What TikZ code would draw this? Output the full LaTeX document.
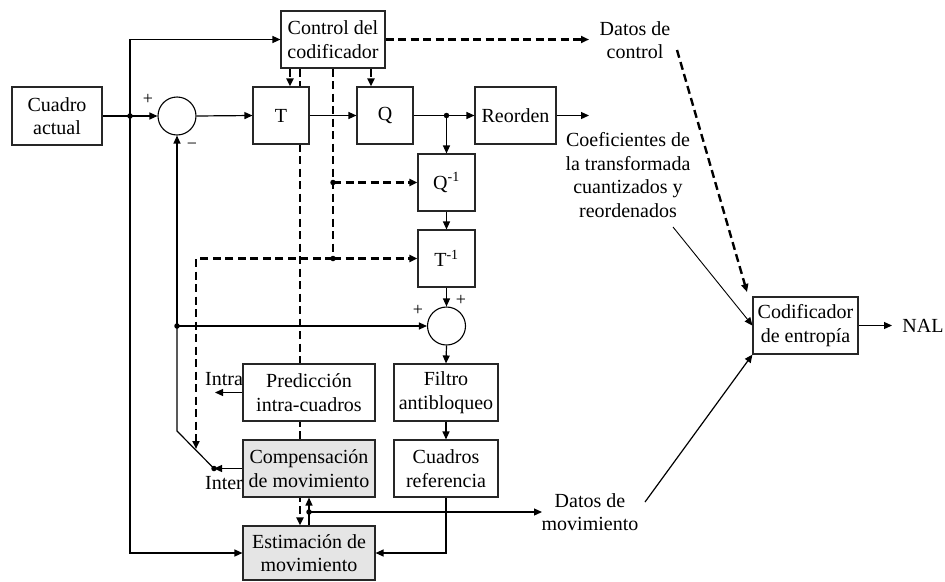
\documentclass[tikz,border=0pt]{standalone}
\usepackage{fontspec}
\setmainfont{Liberation Serif}
\usetikzlibrary{arrows.meta,backgrounds}
\begin{document}
\begin{tikzpicture}[x=1pt,y=-1pt,
  txt/.style={font=\fontsize{20}{23.5}\selectfont, align=center, inner sep=0pt},
  blk/.style={txt, draw=black!85, line width=1.1pt, fill=white},
  gblk/.style={blk, fill=black!10},
  sumc/.style={circle, draw=black, line width=1.1pt, fill=white, minimum size=38pt, inner sep=0pt},
  sgn/.style={font=\fontsize{18}{18}\selectfont, inner sep=0pt},
  conn/.style={line width=1.2pt},
  arr/.style={conn, -{Triangle[length=8pt,width=7pt]}},
  dsh/.style={line width=2.4pt, dash pattern=on 8pt off 4.5pt},
  darr/.style={dsh, -{Triangle[length=8pt,width=7pt]}},
  thin/.style={line width=0.9pt, -{Triangle[length=8pt,width=7pt]}},
  dot/.style={circle, fill=black, inner sep=0pt, minimum size=5.5pt}
]
\useasboundingbox (0,0) rectangle (945,581);

% blocks
\node[blk, line width=2pt, minimum width=90pt, minimum height=58pt] (cuadro) at (57,116) {Cuadro\\actual};
\node[blk, minimum width=104pt, minimum height=57pt] (ctrl) at (333,39.5) {Control del\\codificador};
\node[blk, minimum width=56pt, minimum height=57pt] (T) at (281,115.5) {T};
\node[blk, minimum width=56pt, minimum height=57pt] (Q) at (385,115.5) {Q};
\node[blk, minimum width=81pt, minimum height=57pt] (reord) at (515.5,115.5) {Reorden};
\node[blk, minimum width=57pt, minimum height=57pt] (Qi) at (446.5,182.5) {Q\textsuperscript{-1}};
\node[blk, minimum width=57pt, minimum height=57pt] (Ti) at (446.5,258.5) {T\textsuperscript{-1}};
\node[sumc] (s1) at (177,116) {};
\node[sumc] (s2) at (446.5,326) {};
\node[blk, minimum width=132pt, minimum height=57pt] (pred) at (309,392.5) {Predicción\\intra-cuadros};
\node[blk, minimum width=104pt, minimum height=57pt] (filt) at (446,392.5) {Filtro\\antibloqueo};
\node[gblk, minimum width=132pt, minimum height=57pt] (comp) at (309,468.5) {Compensación\\de movimiento};
\node[blk, minimum width=104pt, minimum height=57pt] (cref) at (446,468.5) {Cuadros\\referencia};
\node[gblk, minimum width=132pt, minimum height=54pt] (estim) at (309,553) {Estimación de\\movimiento};
\node[blk, minimum width=105pt, minimum height=57pt] (codif) at (805.5,325.5) {Codificador\\de entropía};

% labels
\node[txt] (ldc) at (635,40) {Datos de\\control};
\node[txt] (lcoef) at (628,175) {Coeficientes de\\la transformada\\cuantizados y\\reordenados};
\node[txt] (ldm) at (590,512) {Datos de\\movimiento};
\node[txt] (lnal) at (923,326) {NAL};
\node[txt] (lintra) at (224,379) {Intra};
\node[txt] (linter) at (224,483) {Inter};
\node[sgn] (p1) at (148,99) {+};
\node[sgn] (m1) at (192,146) {\textminus};
\node[sgn] (p2) at (418,310) {+};
\node[sgn] (p3) at (461,300) {+};

% coordinates
\coordinate (j1) at (130,116);
\coordinate (j2) at (446.5,115.5);
\coordinate (j3) at (309,512);
\coordinate (j4) at (177,326);
\coordinate (j5) at (333,182.5);
\coordinate (j6) at (333,258.5);
\coordinate (bend) at (177,431);
\coordinate (sw) at (214,468.5);
\coordinate (dl) at (196,258.5);
\coordinate (dlend) at (196,449);
\coordinate (reordout) at (589,115.5);
\coordinate (ctrlout) at (589,39.5);
\coordinate (dmout) at (542,512);
\coordinate (intraout) at (215,392.5);
\coordinate (nalout) at (892,325.5);
\coordinate (dcs) at (677,50);
\coordinate (dce) at (747,292);
\coordinate (cos) at (673,227);
\coordinate (dms) at (645,502);

% background dashed line behind the blocks
\begin{pgfonlayer}{background}
\draw[darr] ([xshift=-33pt]ctrl.south) -- ([xshift=-9pt]estim.north);
\end{pgfonlayer}

% solid connectors
\draw[arr] (cuadro.east) -- (s1.west);
\draw[arr] (j1) |- (ctrl.west);
\draw[arr] (j1) |- (estim.west);
\draw[arr] (s1.east) -- (T.west);
\draw[arr] (T.east) -- (Q.west);
\draw[arr] (Q.east) -- (reord.west);
\draw[arr] (j2) -- (Qi.north);
\draw[arr] (reord.east) -- (reordout);
\draw[arr] (Qi.south) -- (Ti.north);
\draw[arr] (Ti.south) -- (s2.north);
\draw[arr] (s2.south) -- (filt.north);
\draw[arr] (filt.south) -- (cref.north);
\draw[arr] (cref.south) |- (estim.east);
\draw[arr] (estim.north) -- (comp.south);
\draw[arr] (j3) -- (dmout);
\draw[arr] (j4) -- (s1.south);
\draw[arr] (j4) -- (s2.west);
\draw[conn] (j4) -- (bend) -- (sw);
\draw[arr] (comp.west) -- (sw);
\draw[arr] (pred.west) -- (intraout);
\draw[arr] (codif.east) -- (nalout);
\draw[thin] (cos) -- (codif.west);
\draw[arr] (dms) -- (codif.south west);

% dashed connectors
\draw[darr] ([xshift=-43pt]ctrl.south) -- ([xshift=9pt]T.north);
\draw[darr] ([xshift=38pt]ctrl.south) -- ([xshift=-14pt]Q.north);
\draw[dsh] (ctrl.south) -- (j6);
\draw[darr] (j5) -- (Qi.west);
\draw[darr] (j6) -- (Ti.west);
\draw[darr] (j6) -- (dl) -- (dlend);
\draw[darr] (ctrl.east) -- (ctrlout);
\draw[darr] (dcs) -- (dce);

% dots
\foreach \c in {j1,j2,j3,j4,j5,j6,sw} \node[dot] at (\c) {};
\end{tikzpicture}
\end{document}
